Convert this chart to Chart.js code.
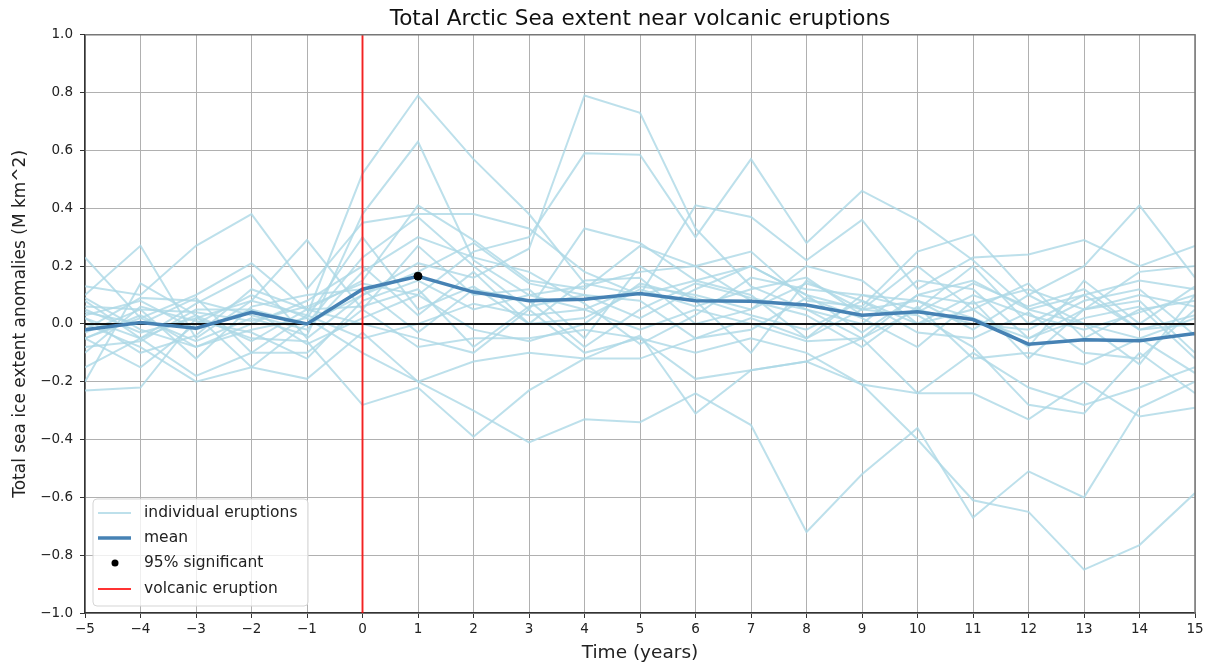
<!DOCTYPE html>
<html><head><meta charset="utf-8">
<script src="https://cdn.jsdelivr.net/npm/chart.js@4"></script>
<style>html,body{margin:0;padding:0;background:#fff}#wrap{width:1208px;height:664px}</style>
</head><body><div id="wrap"><canvas id="c" width="1208" height="664"></canvas></div>
<script>
const years = [-5,-4,-3,-2,-1,0,1,2,3,4,5,6,7,8,9,10,11,12,13,14,15];
const yTicks = [-1,-0.8,-0.6,-0.4,-0.2,0,0.2,0.4,0.6,0.8,1];
const meanValues = [-0.02,0.005,-0.015,0.04,0.0,0.12,0.165,0.11,0.08,0.085,0.105,0.08,0.078,0.065,0.03,0.042,0.015,-0.07,-0.055,-0.058,-0.033];
const significantYears = [1];
const significantValues = [0.165];
const eruptionYear = 0;

const eruption01 = [0.05,-0.03,0.02,0.08,0.03,0.52,0.79,0.57,0.38,0.14,0.10,0.15,0.20,0.10,0.05,0.08,0.02,-0.05,0.05,0.10,0.06];
const eruption02 = [-0.05,0.02,-0.06,0.02,-0.04,0.38,0.63,0.22,0.10,0.05,0.13,0.10,0.05,0.14,0.08,0.00,0.10,0.03,-0.02,0.04,0.10];
const eruption03 = [0.03,0.08,-0.02,0.05,0.00,0.10,0.21,0.16,0.26,0.79,0.73,0.33,0.13,0.05,-0.05,0.10,0.15,0.05,0.00,-0.05,0.02];
const eruption04 = [-0.03,0.05,0.04,0.01,0.06,0.14,0.10,0.25,0.30,0.59,0.585,0.30,0.57,0.28,0.46,0.36,0.22,0.05,0.10,0.15,0.12];
const eruption05 = [0.23,0.02,0.10,0.21,0.05,0.15,0.41,0.29,0.15,0.12,0.27,0.20,0.25,0.08,0.06,0.25,0.31,0.10,0.20,0.41,0.16];
const eruption06 = [0.13,0.10,0.27,0.38,0.12,0.35,0.38,0.38,0.33,0.18,0.10,0.41,0.37,0.22,0.36,0.12,0.23,0.24,0.29,0.20,0.27];
const eruption07 = [0.10,0.27,-0.05,0.08,0.29,0.05,0.27,0.10,0.12,-0.05,0.20,0.08,-0.10,0.15,0.05,0.20,0.05,0.14,-0.05,0.05,0.08];
const eruption08 = [-0.20,0.14,0.03,-0.15,0.00,0.23,0.37,0.20,0.05,0.33,0.28,0.15,0.10,-0.05,0.10,0.05,0.20,0.00,0.10,-0.02,0.03];
const eruption09 = [0.08,-0.05,0.07,0.17,-0.05,0.10,0.18,0.28,0.14,0.10,0.02,0.12,0.20,0.10,-0.03,0.10,0.07,0.12,0.05,0.08,-0.10];
const eruption10 = [-0.05,-0.15,0.00,0.10,0.02,0.30,0.05,0.13,0.00,0.15,0.16,0.00,0.05,0.20,0.15,0.00,0.05,-0.08,0.15,0.00,0.13];
const eruption11 = [0.00,-0.08,-0.20,-0.15,-0.19,-0.03,-0.20,-0.13,-0.10,-0.12,-0.04,-0.31,-0.16,-0.13,-0.05,-0.24,-0.24,-0.33,-0.20,-0.32,-0.29];
const eruption12 = [-0.23,-0.22,0.02,-0.05,-0.06,-0.28,-0.22,-0.39,-0.23,-0.12,-0.12,-0.05,0.02,-0.05,0.05,0.03,-0.08,-0.28,-0.31,-0.10,-0.24];
const eruption13 = [-0.05,0.03,-0.08,-0.02,0.02,-0.10,-0.20,-0.30,-0.41,-0.33,-0.34,-0.24,-0.35,-0.72,-0.52,-0.36,-0.67,-0.51,-0.60,-0.29,-0.20];
const eruption14 = [0.02,-0.05,0.03,-0.06,0.05,0.00,-0.05,-0.10,0.05,-0.10,-0.05,-0.10,-0.05,-0.10,-0.21,-0.40,-0.61,-0.65,-0.85,-0.765,-0.585];
const eruption15 = [-0.15,-0.05,-0.18,-0.10,-0.10,0.05,-0.08,-0.05,-0.05,-0.02,-0.05,-0.19,-0.16,-0.13,-0.21,-0.24,-0.10,-0.22,-0.28,-0.22,-0.15];
const eruption16 = [0.04,0.00,0.09,-0.10,0.03,-0.05,0.00,0.07,0.03,0.05,-0.02,0.05,0.00,-0.06,-0.05,0.05,0.00,-0.02,0.08,0.12,-0.04];
const eruption17 = [-0.08,-0.06,0.05,0.05,-0.07,0.02,0.10,-0.02,-0.06,0.00,0.14,0.09,0.03,-0.02,0.08,-0.03,-0.05,0.04,-0.10,-0.12,0.05];
const eruption18 = [0.06,0.05,-0.12,0.06,0.10,0.12,-0.03,0.12,0.08,-0.08,0.05,0.14,0.09,0.05,0.00,0.15,0.12,-0.05,0.02,0.06,-0.12];
const eruption19 = [-0.02,0.09,0.08,0.03,-0.02,0.18,0.30,0.23,0.18,0.07,-0.07,0.03,0.16,0.12,0.10,0.08,-0.02,0.10,0.00,-0.14,0.10];
const eruption20 = [0.02,-0.10,-0.04,0.12,0.05,0.06,0.12,-0.08,0.06,0.10,0.08,-0.05,-0.02,0.09,0.02,-0.08,0.08,-0.12,0.05,0.18,0.20];
const eruption21 = [-0.10,0.06,0.01,-0.03,-0.12,0.08,0.15,0.05,0.10,0.13,0.18,0.20,0.08,0.03,-0.08,0.06,-0.12,-0.10,-0.14,-0.05,-0.17];
const eruption22 = [0.09,-0.02,-0.08,0.00,0.08,0.20,0.03,0.18,0.00,0.02,0.12,0.06,0.12,0.16,0.03,0.04,0.14,0.06,0.12,-0.02,0.00];

const eruptionSeries = [eruption01,eruption02,eruption03,eruption04,eruption05,eruption06,eruption07,eruption08,eruption09,eruption10,eruption11,eruption12,eruption13,eruption14,eruption15,eruption16,eruption17,eruption18,eruption19,eruption20,eruption21,eruption22];

const FONT = "'DejaVu Sans', sans-serif";
const indivColor = 'rgba(173,216,230,0.8)';
const meanColor = '#4682b4';
const redColor = 'rgba(255,0,0,0.8)';

const toPts = arr => years.map((x, i) => ({x: x, y: arr[i]}));
const datasets = [];
eruptionSeries.forEach(s => datasets.push({
  label: 'individual eruptions', data: toPts(s), borderColor: indivColor, borderWidth: 2,
  pointRadius: 0, tension: 0, order: 10
}));
datasets.push({label: 'zero', data: [{x: years[0], y: 0}, {x: years[years.length-1], y: 0}],
  borderColor: '#111', borderWidth: 2, pointRadius: 0, order: 5});
datasets.push({label: 'mean', data: toPts(meanValues), borderColor: meanColor, borderWidth: 3.5,
  pointRadius: 0, tension: 0, order: 3});
datasets.push({label: 'volcanic eruption', data: [{x: eruptionYear, y: yTicks[0]}, {x: eruptionYear, y: yTicks[yTicks.length-1]}],
  borderColor: redColor, borderWidth: 2, pointRadius: 0, order: 2});
datasets.push({label: '95% significant', type: 'scatter', data: significantYears.map((x, i) => ({x: x, y: significantValues[i]})),
  backgroundColor: '#000', borderColor: '#000', pointRadius: 4, order: 1});

const fmt = v => {
  if (Math.abs(v) < 1e-9) return '0';
  return (v < 0 ? '\u2212' : '') + Math.abs(v);
};
const fmtY = v => {
  if (Math.abs(v) < 1e-9) return '0.0';
  return (v < 0 ? '\u2212' : '') + Math.abs(v).toFixed(1);
};

const framePlugin = {
  id: 'frame',
  afterDraw(chart) {
    const {ctx, chartArea: a} = chart;
    ctx.save();
    ctx.strokeStyle = '#777';
    ctx.lineWidth = 1.5;
    ctx.beginPath();
    ctx.moveTo(a.left, a.top); ctx.lineTo(a.right, a.top); ctx.lineTo(a.right, a.bottom);
    ctx.stroke();
    // legend
    const bx = 93, by = 499, bw = 215, bh = 107, r = 4;
    ctx.beginPath();
    ctx.moveTo(bx + r, by);
    ctx.arcTo(bx + bw, by, bx + bw, by + bh, r);
    ctx.arcTo(bx + bw, by + bh, bx, by + bh, r);
    ctx.arcTo(bx, by + bh, bx, by, r);
    ctx.arcTo(bx, by, bx + bw, by, r);
    ctx.closePath();
    ctx.fillStyle = 'rgba(255,255,255,0.8)';
    ctx.fill();
    ctx.strokeStyle = '#d5d5d5';
    ctx.lineWidth = 1;
    ctx.stroke();
    const items = [
      {t: 'individual eruptions', kind: 'line', c: indivColor, w: 2},
      {t: 'mean', kind: 'line', c: meanColor, w: 3.5},
      {t: '95% significant', kind: 'dot'},
      {t: 'volcanic eruption', kind: 'line', c: redColor, w: 2}
    ];
    const rows = [513, 538, 563, 589];
    ctx.font = '15.5px ' + FONT;
    ctx.textBaseline = 'middle';
    ctx.textAlign = 'left';
    items.forEach((it, i) => {
      const y = rows[i];
      if (it.kind === 'line') {
        ctx.strokeStyle = it.c; ctx.lineWidth = it.w;
        ctx.beginPath(); ctx.moveTo(98, y); ctx.lineTo(131, y); ctx.stroke();
      } else {
        ctx.fillStyle = '#000';
        ctx.beginPath(); ctx.arc(115, y, 3.5, 0, Math.PI * 2); ctx.fill();
      }
      ctx.fillStyle = '#222';
      ctx.fillText(it.t, 144, y);
    });
    ctx.restore();
  }
};

new Chart(document.getElementById('c'), {
  type: 'line',
  data: {datasets: datasets},
  options: {
    responsive: false, animation: false, devicePixelRatio: 1,
    layout: {padding: {left: 0, right: 13, top: 0, bottom: 0}},
    plugins: {
      legend: {display: false}, tooltip: {enabled: false},
      title: {display: true, text: 'Total Arctic Sea extent near volcanic eruptions', fullSize: false,
        font: {family: FONT, size: 21.5, weight: 'normal'}, color: '#111', padding: {top: 7, bottom: 2}}
    },
    scales: {
      x: {
        type: 'linear', min: years[0], max: years[years.length-1],
        afterFit: s => { s.height = 51; },
        afterBuildTicks: s => { s.ticks = years.map(v => ({value: v})); },
        ticks: {stepSize: 1, callback: fmt, font: {family: FONT, size: 13.5}, color: '#222', padding: 3, maxRotation: 0, autoSkip: false},
        grid: {color: '#b0b0b0', lineWidth: 1, tickLength: 5, tickColor: '#333', tickWidth: 1},
        border: {display: true, color: '#333', width: 1.5},
        title: {display: true, text: 'Time (years)', font: {family: FONT, size: 18.5}, color: '#222', padding: {top: 0, bottom: 0}}
      },
      y: {
        type: 'linear', min: yTicks[0], max: yTicks[yTicks.length-1],
        afterFit: s => { s.width = 85; },
        afterBuildTicks: s => { s.ticks = yTicks.map(v => ({value: v})); },
        ticks: {callback: fmtY, font: {family: FONT, size: 13.5}, color: '#222', padding: 7, autoSkip: false},
        grid: {color: '#b0b0b0', lineWidth: 1, tickLength: 5, tickColor: '#333', tickWidth: 1},
        border: {display: true, color: '#333', width: 1.5},
        title: {display: true, text: 'Total sea ice extent anomalies (M km^2)', font: {family: FONT, size: 17}, color: '#222', padding: {top: 10, bottom: 0}}
      }
    }
  },
  plugins: [framePlugin]
});
</script>
</body></html>
